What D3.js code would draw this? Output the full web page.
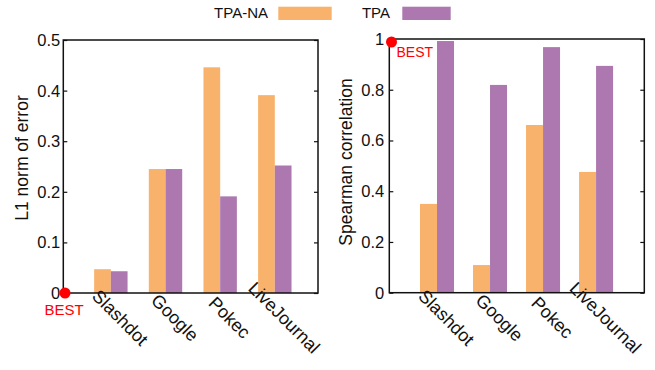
<!DOCTYPE html>
<html>
<head>
<meta charset="utf-8">
<script src="https://cdn.jsdelivr.net/npm/d3@7"></script>
<style>
body { margin: 0; background: #fff; }
text { font-family: "Liberation Sans", Arial, sans-serif; fill: #111; }
</style>
</head>
<body>
<svg id="chart" width="655" height="370"></svg>
<script>
var categories = ["Slashdot", "Google", "Pokec", "LiveJournal"];
var seriesNames = ["TPA-NA", "TPA"];
var colors = ["#f9b26b", "#ad78b0"];

// L1 norm of error
var l1TpaNa = [0.047, 0.245, 0.446, 0.391];
var l1Tpa = [0.043, 0.245, 0.191, 0.252];
var l1Ticks = [0, 0.1, 0.2, 0.3, 0.4, 0.5];

// Spearman correlation
var spTpaNa = [0.35, 0.109, 0.661, 0.476];
var spTpa = [0.992, 0.819, 0.968, 0.894];
var spTicks = [0, 0.2, 0.4, 0.6, 0.8, 1];

var svg = d3.select("#chart");
svg.append("rect").attr("width", 655).attr("height", 370).style("fill", "#fff");

function drawPanel(opt) {
	var g = svg.append("g");
	var x = d3.scaleLinear().domain(opt.xDomain).range([opt.left, opt.right]);
	var y = d3.scaleLinear().domain(opt.yDomain).range([opt.bottom, opt.top]);
	var bw = opt.barWidth;

	[opt.a, opt.b].forEach(function(vals, s) {
		g.selectAll(null)
			.data(vals)
			.enter().append("rect")
			.attr("x", function(d, i) { return s == 0 ? x(i) - bw : x(i); })
			.attr("y", function(d) { return y(d); })
			.attr("width", bw)
			.attr("height", function(d) { return y(0) - y(d); })
			.style("fill", colors[s]);
	});

	// inward ticks on both sides
	var yAxisL = d3.axisRight(y).tickValues(opt.ticks).tickSize(4).tickFormat("");
	var yAxisR = d3.axisLeft(y).tickValues(opt.ticks).tickSize(4).tickFormat("");
	g.append("g").attr("transform", "translate(" + opt.left + ",0)").call(yAxisL);
	g.append("g").attr("transform", "translate(" + opt.right + ",0)").call(yAxisR);
	g.selectAll(".domain").remove();
	g.selectAll(".tick line").style("stroke", "#111").style("stroke-width", 1.2);

	g.selectAll(null)
		.data(opt.ticks)
		.enter().append("text")
		.attr("x", opt.left - opt.labelGap)
		.attr("y", function(d) { return y(d) + 6; })
		.attr("text-anchor", "end")
		.style("font-size", "16.5px")
		.text(function(d) { return d; });

	g.append("rect")
		.attr("x", opt.left)
		.attr("y", opt.top)
		.attr("width", opt.right - opt.left)
		.attr("height", opt.bottom - opt.top)
		.style("fill", "none")
		.style("stroke", "#111")
		.style("stroke-width", 1.5);

	g.selectAll(null)
		.data(categories)
		.enter().append("text")
		.attr("transform", function(d, i) { return "translate(" + (x(i) + 5) + ",322) rotate(45)"; })
		.attr("text-anchor", "middle")
		.style("font-size", "18px")
		.text(function(d) { return d; });

	g.append("text")
		.attr("transform", "translate(" + opt.titleX + "," + opt.titleY + ") rotate(-90)")
		.attr("text-anchor", "middle")
		.style("font-size", "17.5px")
		.text(opt.title);

	return { g: g, x: x, y: y };
}

var p1 = drawPanel({
	left: 63.3, right: 318, top: 40, bottom: 293,
	xDomain: [-0.87, 3.79], yDomain: [0, 0.5],
	barWidth: 16.7, a: l1TpaNa, b: l1Tpa, ticks: l1Ticks,
	labelGap: 3, title: "L1 norm of error", titleX: 28, titleY: 158
});

var p2 = drawPanel({
	left: 389.3, right: 644.3, top: 39, bottom: 292.7,
	xDomain: [-0.9, 3.91], yDomain: [0, 1],
	barWidth: 17, a: spTpaNa, b: spTpa, ticks: spTicks,
	labelGap: 5, title: "Spearman correlation", titleX: 352, titleY: 162
});

// BEST markers
p1.g.append("circle").attr("cx", 65).attr("cy", p1.y(0)).attr("r", 5.5).style("fill", "#f00");
p1.g.append("text").attr("x", 64).attr("y", 315).attr("text-anchor", "middle")
	.style("font-size", "15px").style("fill", "#f00").text("BEST");

p2.g.append("circle").attr("cx", 391.5).attr("cy", p2.y(1) + 3).attr("r", 5.5).style("fill", "#f00");
p2.g.append("text").attr("x", 396.5).attr("y", 56.5)
	.style("font-size", "14px").style("fill", "#f00").text("BEST");

// legend
var legend = svg.append("g");
legend.append("text").attr("x", 268).attr("y", 18).attr("text-anchor", "end").style("font-size", "15px").text(seriesNames[0]);
legend.append("rect").attr("x", 278.3).attr("y", 6.7).attr("width", 53.4).attr("height", 13.3).style("fill", colors[0]);
legend.append("text").attr("x", 390).attr("y", 18).attr("text-anchor", "end").style("font-size", "15px").text(seriesNames[1]);
legend.append("rect").attr("x", 402.3).attr("y", 6.7).attr("width", 48.4).attr("height", 13.3).style("fill", colors[1]);
</script>
</body>
</html>
